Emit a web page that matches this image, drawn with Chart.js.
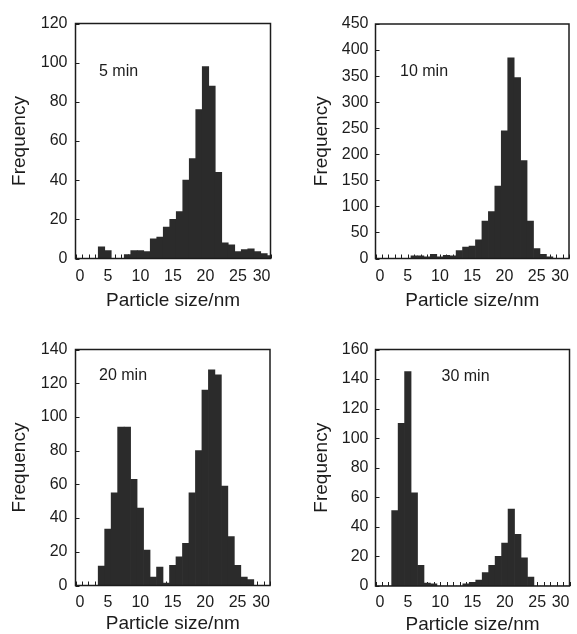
<!DOCTYPE html>
<html>
<head>
<meta charset="utf-8">
<script src="https://cdn.jsdelivr.net/npm/chart.js@4.4.1/dist/chart.umd.min.js"></script>
<style>
  html, body { margin: 0; padding: 0; background: #ffffff; overflow: hidden; width: 577px; height: 634px; }
  canvas { position: absolute; }
</style>
</head>
<body>
<canvas id="c1" width="288" height="317"></canvas>
<canvas id="c2" width="289" height="317"></canvas>
<canvas id="c3" width="288" height="317"></canvas>
<canvas id="c4" width="289" height="317"></canvas>
<script>
// ---------------- DATA ----------------
const binCenters = [0,1,2,3,4,5,6,7,8,9,10,11,12,13,14,15,16,17,18,19,20,21,22,23,24,25,26,27,28,29,30];
const xTickValues = [0,5,10,15,20,25,30];
const freq5min  = [0,0,0,0,6,4,0,0,2,4,4,3.5,10,11,16,20,24,40,51,76,98,88,44,8,7,3.5,4.5,5,3.5,2.5,1.5];
const freq10min = [0,0,0,0,0,0,5,5,3,8,3,6,5,15,22,24,36,72,90,139,245,385,347,188,72,19,8,3,0,0,0];
const freq20min = [0,0,0,0,11.5,33.5,55,94,94,63,46,21,5,11,1.5,12,17,25,55,80,116,128,125,59,29,12,5,3.5,0,0,0];
const freq30min = [0,0,0,51,110,145,63,14,2,1.5,0,0,0,0,1.5,2.5,4,9,14,20,29,52,35,19,6,0,0,0,0,0,0];
const panelLabels = ['5 min', '10 min', '20 min', '30 min'];
const yMaxValues = [120, 450, 140, 160];
const yStepValues = [20, 50, 20, 20];
const xAxisTitle = 'Particle size/nm';
const yAxisTitle = 'Frequency';

// ---------------- STYLE / LAYOUT ----------------
const FONT = '"Liberation Sans", Arial, Helvetica, sans-serif';
const INK = '#1c1c1c';
const BAR = '#2b2b2b';

const layouts = [
  {id:'c1', left:0,   top:0,   w:288, h:317, L:75.5, T:23.5, R:270.5, B:258.5, H:52, yTitlePad:10.5, yTickPad:8, xTickPad:8, dx:23.5, dy:48.5},
  {id:'c2', left:288, top:0,   w:289, h:317, L:87.5, T:24,   R:282,   B:258.5, H:52, yTitlePad:24,   yTickPad:7, xTickPad:8, dx:24.5, dy:48},
  {id:'c3', left:0,   top:317, w:288, h:317, L:75.5, T:32.5, R:270,   B:268.5, H:48, yTitlePad:10.5, yTickPad:8, xTickPad:7, dx:23.5, dy:26.5},
  {id:'c4', left:288, top:317, w:289, h:317, L:87.5, T:32.5, R:281.5, B:269,   H:48, yTitlePad:24,   yTickPad:7, xTickPad:7, dx:66,   dy:27.5}
];
const series = [freq5min, freq10min, freq20min, freq30min];

const framePlugin = {
  id: 'frame',
  beforeDatasetsDraw(chart) {
    const {ctx, chartArea: a, scales: {x}} = chart;
    ctx.save();
    ctx.strokeStyle = INK;
    ctx.lineWidth = 1;
    ctx.beginPath();
    binCenters.forEach(v => {
      const px = Math.round(x.getPixelForValue(v)) + 0.5;
      ctx.moveTo(px, a.bottom);
      ctx.lineTo(px, a.bottom - 4);
    });
    ctx.stroke();
    ctx.restore();
  },
  afterDatasetsDraw(chart, args, opts) {
    const {ctx, chartArea: a, scales: {y}} = chart;
    ctx.save();
    ctx.strokeStyle = INK;
    ctx.lineWidth = 1;
    ctx.beginPath();
    y.ticks.forEach(t => {
      const py = Math.round(y.getPixelForValue(t.value)) + 0.5;
      ctx.moveTo(a.left, py);
      ctx.lineTo(a.left + 4, py);
    });
    ctx.stroke();
    ctx.lineWidth = 1.5;
    ctx.strokeRect(a.left, a.top, a.right - a.left, a.bottom - a.top);
    ctx.fillStyle = INK;
    ctx.font = '16px ' + FONT;
    ctx.textAlign = 'left';
    ctx.textBaseline = 'middle';
    ctx.fillText(opts.label, a.left + opts.dx, a.top + opts.dy);
    ctx.restore();
  }
};

layouts.forEach((lay, i) => {
  const cv = document.getElementById(lay.id);
  cv.style.left = lay.left + 'px';
  cv.style.top = lay.top + 'px';
  const points = binCenters.map((c, k) => ({x: c, y: series[i][k]}));
  new Chart(cv, {
    type: 'bar',
    data: {
      datasets: [{
        data: points,
        backgroundColor: BAR,
        borderWidth: 0,
        barPercentage: 1,
        categoryPercentage: 1,
        clip: 0
      }]
    },
    plugins: [framePlugin],
    options: {
      responsive: false,
      devicePixelRatio: 1,
      animation: false,
      events: [],
      layout: { padding: { left: 0, top: lay.T, right: lay.w - lay.R, bottom: lay.h - lay.B - lay.H } },
      plugins: {
        legend: { display: false },
        tooltip: { enabled: false },
        frame: { label: panelLabels[i], dx: lay.dx, dy: lay.dy }
      },
      scales: {
        x: {
          type: 'linear',
          offset: false,
          min: 0, max: 30,
          grid: { display: false, drawTicks: false, offset: false },
          border: { display: false },
          afterBuildTicks: (s) => { s.ticks = xTickValues.map(v => ({value: v})); },
          afterFit: (s) => { s.height = lay.H; },
          ticks: { color: INK, font: { family: FONT, size: 16 }, padding: lay.xTickPad, maxRotation: 0, autoSkip: false, align: 'inner' },
          title: { display: true, text: xAxisTitle, color: INK, font: { family: FONT, size: 19, lineHeight: 1 }, padding: 0 }
        },
        y: {
          min: 0, max: yMaxValues[i],
          grid: { display: false, drawTicks: false },
          border: { display: false },
          afterFit: (s) => { s.width = lay.L; },
          ticks: { stepSize: yStepValues[i], color: INK, font: { family: FONT, size: 16 }, padding: lay.yTickPad },
          title: { display: true, text: yAxisTitle, color: INK, font: { family: FONT, size: 19, lineHeight: 1 }, padding: { top: lay.yTitlePad, bottom: 0 } }
        }
      }
    }
  });
});
</script>
</body>
</html>
